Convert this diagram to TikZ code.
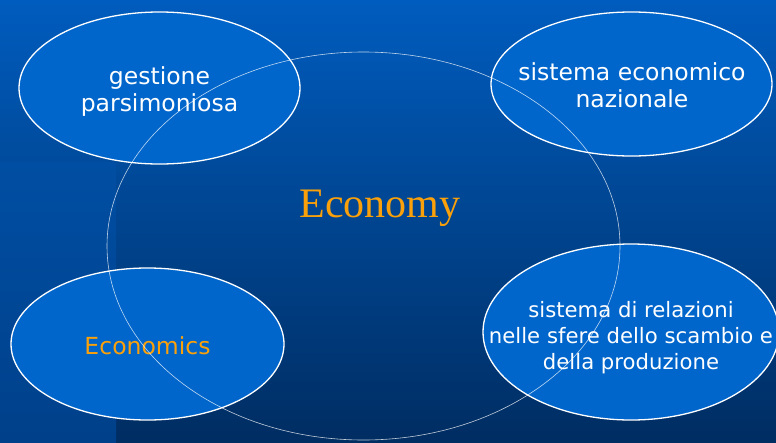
\documentclass[tikz,border=0pt]{standalone}
\usepackage{fontspec}
\usetikzlibrary{shapes.geometric}
\newfontfamily\vfont{DejaVu Sans}
\newfontfamily\tfont{Liberation Serif}
\definecolor{bgtop}{RGB}{0,92,190}
\definecolor{bgbot}{RGB}{0,45,98}
\definecolor{striptop}{RGB}{0,78,163}
\definecolor{stripbot}{RGB}{0,64,138}
\definecolor{ellfill}{RGB}{0,102,204}
\definecolor{orangetxt}{RGB}{250,160,10}
\tikzset{
  oval/.style={ellipse, draw=white, line width=1.3pt, fill=ellfill, inner sep=0pt},
  ovaltext/.style={text=white, align=center, inner sep=0pt, font=\vfont\fontsize{23.5}{27}\selectfont},
  bigring/.style={draw=white, draw opacity=0.75, line width=0.6pt}
}
\begin{document}
\begin{tikzpicture}[x=1pt,y=-1pt]
\useasboundingbox (0,0) rectangle (776,442);
\clip (0,0) rectangle (776,442);
\shade[top color=bgtop, bottom color=bgbot] (0,0) rectangle (776,442);
\shade[top color=striptop, bottom color=stripbot] (0,162) rectangle (116,442);
\node[oval, minimum width=281pt, minimum height=152pt] (gest) at (159.5,88) {};
\node[ovaltext] (gesttxt) at (159.5,92) {gestione\\parsimoniosa};
\node[oval, minimum width=281pt, minimum height=144pt] (naz) at (631.5,84) {};
\node[ovaltext] (naztxt) at (632,85.5) {sistema economico\\nazionale};
\node[oval, minimum width=273pt, minimum height=152pt] (ecs) at (147.5,344) {};
\node[ovaltext, text=orangetxt] (ecstxt) at (147.5,346) {Economics};
\node[oval, minimum width=296pt, minimum height=176pt] (rel) at (631,332) {};
\node[ovaltext, font=\vfont\fontsize{21.2}{26}\selectfont] (reltxt) at (631,338) {sistema di relazioni\\nelle sfere dello scambio e\\della produzione};
\node[anchor=base, text=orangetxt, font=\tfont\fontsize{42}{48}\selectfont, inner sep=0pt] (eco) at (380,217) {Economy};
\draw[bigring] (363.5,246) ellipse [x radius=256.5, y radius=194];
\end{tikzpicture}
\end{document}
